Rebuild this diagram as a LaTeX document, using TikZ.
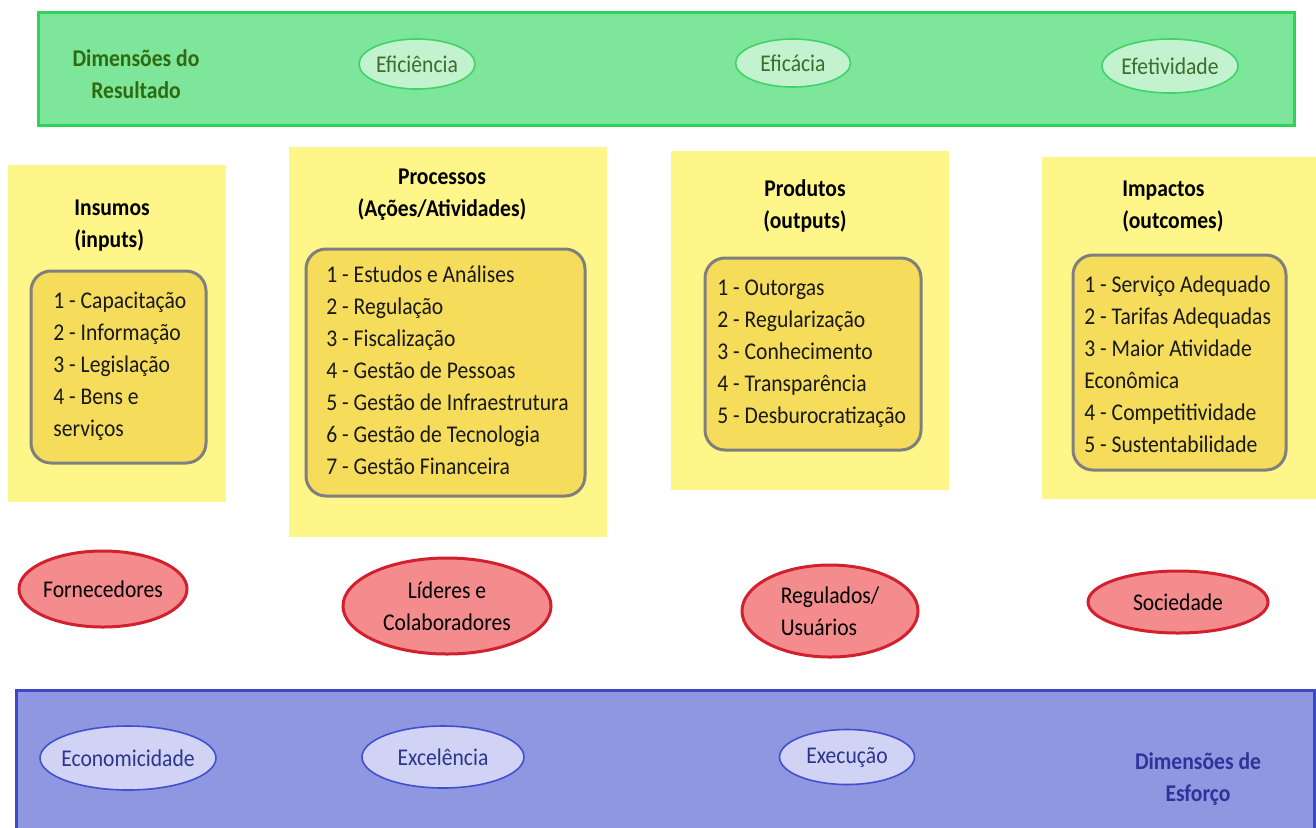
\documentclass[tikz,border=0pt]{standalone}
\usepackage{fontspec}
\setmainfont{Carlito}[FakeStretch=0.9]
\usetikzlibrary{shapes.geometric,fit}
\definecolor{gfill}{HTML}{7DE69A}
\definecolor{gborder}{HTML}{2ED35B}
\definecolor{gefill}{HTML}{C2F2CE}
\definecolor{geborder}{HTML}{3FD36A}
\definecolor{gtext}{HTML}{3E6B2E}
\definecolor{gtitle}{HTML}{2F6A10}
\definecolor{yfill}{HTML}{FFF68A}
\definecolor{ifill}{HTML}{F5DC5A}
\definecolor{igray}{HTML}{7F7F7F}
\definecolor{rfill}{HTML}{F48C8E}
\definecolor{rborder}{HTML}{D2202E}
\definecolor{bfill}{HTML}{8F97E0}
\definecolor{bborder}{HTML}{3C48CC}
\definecolor{befill}{HTML}{D0D3F3}
\definecolor{beborder}{HTML}{4050D0}
\definecolor{btext}{HTML}{2B3590}
\definecolor{btitle}{HTML}{2E3399}
\newcommand{\nsp}{\spaceskip=0pt\xspaceskip=0pt\relax}
\begin{document}
\begin{tikzpicture}[x=0.5pt,y=-0.5pt,
  font=\fontsize{12}{16}\selectfont,
  bar/.style={draw, line width=1.5pt, inner sep=0pt},
  ybox/.style={fill=yfill, inner sep=0pt},
  ibox/.style={fill=ifill, draw=igray, line width=1.5pt, rounded corners=10pt, inner sep=0pt},
  lst/.style={inner sep=0pt, text width=140pt, align=left, anchor=base west, text=black!90},
  ttl/.style={inner sep=0pt, font=\fontsize{12}{16}\selectfont\bfseries, anchor=base},
  gell/.style={ellipse, draw=geborder, fill=gefill, line width=0.8pt, inner sep=0pt},
  rell/.style={ellipse, draw=rborder, fill=rfill, line width=1.5pt, inner sep=0pt},
  bell/.style={ellipse, draw=beborder, fill=befill, line width=0.8pt, inner sep=0pt},
  elbl/.style={inner sep=0pt, align=center}
]
\useasboundingbox (0,0) rectangle (1316,827);

% top bar
\node[bar, draw=gborder, fill=gfill, fit={(38,12) (1294,125)}] (top) {};
\node[ttl, text=gtitle, align=center] (dr) at (136,98) {\nsp Dimensões do\\Resultado};
\node[gell, minimum width=58pt, minimum height=25pt,
  label={[elbl, text=gtext]center:Eficiência}] (efi) at (417,64) {};
\node[gell, minimum width=57.5pt, minimum height=24pt,
  label={[elbl, text=gtext]center:Eficácia}] (efc) at (793,63) {};
\node[gell, minimum width=68pt, minimum height=27pt,
  label={[elbl, text=gtext]center:Efetividade}] (eft) at (1170,66) {};

% bottom bar
\node[bar, draw=bborder, fill=bfill, fit={(16,690) (1314,845)}] (bot) {};
\node[bell, minimum width=88pt, minimum height=32pt,
  label={[elbl, text=btext]center:Economicidade}] (eco) at (128,758) {};
\node[bell, minimum width=81pt, minimum height=31pt,
  label={[elbl, text=btext]center:Excelência}] (exc) at (443,757) {};
\node[bell, minimum width=67.5pt, minimum height=27.5pt,
  label={[elbl, text=btext]center:Execução}] (exe) at (847,757) {};
\node[ttl, text=btitle, align=center] (de) at (1198,801) {\nsp Dimensões de\\Esforço};

% yellow columns
\node[ybox, fit={(8,165) (226,502)}] (c1) {};
\node[ybox, fit={(289,147) (607,537)}] (c2) {};
\node[ybox, fit={(671,151) (949,490)}] (c3) {};
\node[ybox, fit={(1042,157) (1316,499)}] (c4) {};

\node[ttl, align=left, anchor=base west] (t1) at (74,247) {Insumos\\(inputs)};
\node[ttl, align=center] (t2) at (442,216) {Processos\\(Ações/Atividades)};
\node[ttl, align=center] (t3) at (805,228) {Produtos\\(outputs)};
\node[ttl, align=left, anchor=base west] (t4) at (1122,228) {Impactos\\(outcomes)};

\node[ibox, fit={(31,271) (206,463)}] (i1) {};
\node[ibox, fit={(306,249) (585,496)}] (i2) {};
\node[ibox, fit={(705,258) (921,450)}] (i3) {};
\node[ibox, fit={(1073,255) (1286,470)}] (i4) {};

\node[lst] (l1) at (53,308) {\nsp 1 - Capacitação\\2 - Informação\\3 - Legislação\\4 - Bens e\\serviços};
\node[lst] (l2) at (326,282) {\nsp 1 - Estudos e Análises\\2 - Regulação\\3 - Fiscalização\\4 - Gestão de Pessoas\\5 - Gestão de Infraestrutura\\6 - Gestão de Tecnologia\\7 - Gestão Financeira};
\node[lst] (l3) at (717,295) {\nsp 1 - Outorgas\\2 - Regularização\\3 - Conhecimento\\4 - Transparência\\5 - Desburocratização};
\node[lst] (l4) at (1084,292) {\nsp 1 - Serviço Adequado\\2 - Tarifas Adequadas\\3 - Maior Atividade\\Econômica\\4 - Competitividade\\5 - Sustentabilidade};

% red ellipses
\node[rell, minimum width=84pt, minimum height=38pt,
  label={[elbl]center:Fornecedores}] (forn) at (103,589) {};
\node[rell, minimum width=104pt, minimum height=48pt,
  label={[elbl]center:\nsp Líderes e\\Colaboradores}] (lid) at (447,606) {};
\node[rell, minimum width=88pt, minimum height=46pt,
  label={[elbl, align=left]center:Regulados/\\Usuários}] (reg) at (830,611) {};
\node[rell, minimum width=90pt, minimum height=31pt,
  label={[elbl]center:Sociedade}] (soc) at (1178,602) {};
\end{tikzpicture}
\end{document}
